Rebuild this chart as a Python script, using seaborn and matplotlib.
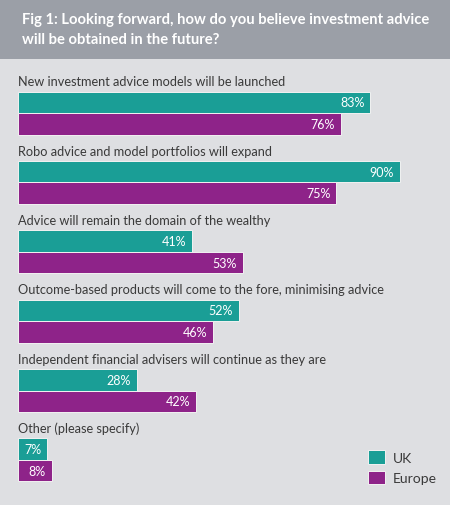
import pandas as pd
import matplotlib
matplotlib.use("Agg")
import matplotlib.pyplot as plt
from matplotlib.patches import Rectangle
import seaborn as sns

sns.set_style("white")
plt.rcParams['font.family'] = ['Lato', 'DejaVu Sans']

# Data
categories = ['New investment advice models will be launched',
              'Robo advice and model portfolios will expand',
              'Advice will remain the domain of the wealthy',
              'Outcome-based products will come to the fore, minimising advice',
              'Independent financial advisers will continue as they are',
              'Other (please specify)']
uk = [83, 90, 41, 52, 28, 7]
europe = [76, 75, 53, 46, 42, 8]
regions = ['UK', 'Europe']
title = 'Fig 1: Looking forward, how do you believe investment advice\nwill be obtained in the future?'

bg = '#dedfe2'
header = '#9b9fa7'
colors = ['#1a9e96', '#8e2389']

df = pd.DataFrame({
    'answer': categories * 2,
    'value': uk + europe,
    'region': ['UK'] * len(categories) + ['Europe'] * len(categories),
})

W, H = 450, 506
fig = plt.figure(figsize=(W / 100, H / 100), dpi=100, facecolor=bg)
fig.patches.append(Rectangle((0, 1 - 60 / H), 1, 60 / H, transform=fig.transFigure,
                             facecolor=header, edgecolor='none', zorder=0))
fig.text(22 / W, 1 - 30 / H, title, color='white', fontsize=10.6, fontweight='bold',
         va='center', ha='left', linespacing=1.6)

ax = fig.add_axes([17.5 / W, 0, 425 / W, 1 - 60 / H])
ax.set_facecolor(bg)
sns.barplot(data=df, x='value', y='answer', hue='region', orient='h',
            palette=colors, width=0.62, dodge=True, ax=ax,
            edgecolor='#f2f2f2', linewidth=0.7, saturation=1)

ax.set_xlim(0, 100)
ax.set_ylim(5.65, -0.78)

for cont in ax.containers:
    for p in cont.patches:
        w = p.get_width()
        ax.text(w - 1.4, p.get_y() + p.get_height() / 2, f'{w:.0f}%',
                color='white', ha='right', va='center', fontsize=9)

for i, cat in enumerate(categories):
    ax.text(0, i - 0.46, cat, color='#3a3a3a', ha='left', va='center', fontsize=9.2)

ax.set_xlabel('')
ax.set_ylabel('')
ax.set_xticks([])
ax.set_yticks([])
for s in ax.spines.values():
    s.set_visible(False)

sns.move_legend(ax, loc='center left', bbox_to_anchor=(0.825, 0.085), frameon=False,
                title=None, fontsize=10, handlelength=1.25, handleheight=1.1,
                handletextpad=0.5, labelspacing=0.5, labelcolor='#3a3a3a',
                borderpad=0, borderaxespad=0)

fig.savefig('out.png', dpi=100, facecolor=bg)
